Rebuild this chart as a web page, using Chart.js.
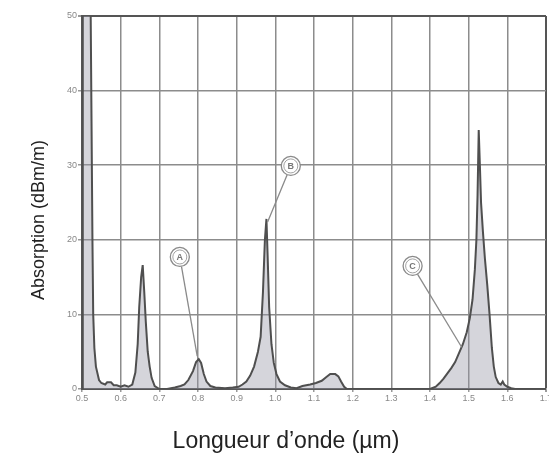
<!DOCTYPE html>
<html>
<head>
<meta charset="utf-8">
<script src="https://cdn.jsdelivr.net/npm/chart.js@4/dist/chart.umd.min.js"></script>
<style>
  html, body { margin: 0; padding: 0; background: #fff; }
  #wrap { width: 549px; height: 454px; }
</style>
</head>
<body>
<div id="wrap"><canvas id="absorption-chart"></canvas></div>
<script>
// Wavelength (um) and absorption (dBm/m)
const wavelengths = [
    0.500, 0.502, 0.521, 0.524, 0.527, 0.529, 0.532, 0.536, 0.544, 0.550,
    0.560, 0.565, 0.575, 0.582, 0.590, 0.600, 0.610, 0.620, 0.630, 0.638,
    0.644, 0.648, 0.653, 0.657, 0.661, 0.665, 0.670, 0.675, 0.680, 0.688,
    0.700, 0.720, 0.740, 0.755, 0.765, 0.775, 0.787, 0.795, 0.802, 0.808,
    0.815, 0.822, 0.832, 0.845, 0.870, 0.890, 0.905, 0.915, 0.925, 0.935,
    0.945, 0.955, 0.962, 0.968, 0.973, 0.977, 0.980, 0.984, 0.990, 0.996,
    1.003, 1.012, 1.025, 1.040, 1.055, 1.070, 1.090, 1.105, 1.120, 1.132,
    1.142, 1.155, 1.163, 1.170, 1.178, 1.185, 1.300, 1.400, 1.415, 1.425,
    1.435, 1.445, 1.455, 1.465, 1.475, 1.485, 1.495, 1.503, 1.510, 1.516,
    1.520, 1.523, 1.526, 1.529, 1.532, 1.537, 1.542, 1.548, 1.554, 1.560,
    1.565, 1.570, 1.577, 1.583, 1.588, 1.592, 1.600, 1.610, 1.620, 1.700
];
const absorption = [
    0, 60, 60, 40, 20, 10, 5.5, 3, 1.2, 0.8,
    0.6, 0.9, 0.9, 0.5, 0.5, 0.3, 0.5, 0.3, 0.6, 2.2,
    6, 11, 15, 16.6, 13, 9, 5, 3, 1.5, 0.4,
    0, 0, 0.2, 0.4, 0.6, 1.2, 2.4, 3.6, 4.0, 3.5,
    2, 1, 0.4, 0.2, 0.1, 0.2, 0.3, 0.6, 1.0, 1.8,
    3.0, 5, 7, 13, 20, 22.8, 18, 11, 6, 3.5,
    2, 1, 0.5, 0.2, 0.1, 0.4, 0.6, 0.8, 1.1, 1.6,
    2.0, 2.0, 1.7, 1.0, 0.3, 0, 0, 0, 0.3, 0.8,
    1.4, 2.1, 2.8, 3.6, 4.8, 6, 7.6, 9.5, 12, 16,
    20, 26, 34.7, 30, 25, 21, 17.5, 14, 10, 5.5,
    3, 1.6, 0.8, 0.6, 1.0, 0.6, 0.3, 0.1, 0, 0
];

const xTicks = [0.5, 0.6, 0.7, 0.8, 0.9, 1.0, 1.1, 1.2, 1.3, 1.4, 1.5, 1.6, 1.7];
const yTicks = [0, 10, 20, 30, 40, 50];

// Circled callouts: label, circle position, point on the curve
const calloutLabels = ['A', 'B', 'C'];
const calloutAt = [[0.753, 17.7], [1.040, 29.9], [1.355, 16.5]];
const calloutTo = [[0.798, 4.4], [0.980, 22.4], [1.482, 5.6]];

const xTitle = 'Longueur d\u2019onde (\u00b5m)';
const yTitle = 'Absorption (dBm/m)';

const FONT = '"Liberation Sans", Arial, sans-serif';

const calloutPlugin = {
    id: 'callouts',
    afterDatasetsDraw(chart) {
        const { ctx, scales: { x, y } } = chart;
        ctx.save();
        calloutLabels.forEach((label, i) => {
            const cx = x.getPixelForValue(calloutAt[i][0]);
            const cy = y.getPixelForValue(calloutAt[i][1]);
            const tx = x.getPixelForValue(calloutTo[i][0]);
            const ty = y.getPixelForValue(calloutTo[i][1]);
            const r = 9.5;
            const ang = Math.atan2(ty - cy, tx - cx);
            ctx.strokeStyle = '#8a8a8a';
            ctx.lineWidth = 1.3;
            ctx.beginPath();
            ctx.moveTo(cx + r * Math.cos(ang), cy + r * Math.sin(ang));
            ctx.lineTo(tx, ty);
            ctx.stroke();
            ctx.fillStyle = '#fff';
            ctx.beginPath();
            ctx.arc(cx, cy, r, 0, Math.PI * 2);
            ctx.fill();
            ctx.stroke();
            ctx.beginPath();
            ctx.arc(cx, cy, r - 2.5, 0, Math.PI * 2);
            ctx.lineWidth = 0.8;
            ctx.stroke();
            ctx.fillStyle = '#777';
            ctx.font = 'bold 9px ' + FONT;
            ctx.textAlign = 'center';
            ctx.textBaseline = 'middle';
            ctx.fillText(label, cx, cy + 0.5);
        });
        ctx.restore();
    }
};

const titlePlugin = {
    id: 'axisTitles',
    afterDraw(chart) {
        const { ctx } = chart;
        ctx.save();
        ctx.fillStyle = '#222';
        ctx.textAlign = 'center';
        ctx.textBaseline = 'alphabetic';
        ctx.font = '23px ' + FONT;
        ctx.fillText(xTitle, 286, 448);
        ctx.translate(39, 220);
        ctx.rotate(-Math.PI / 2);
        ctx.textBaseline = 'middle';
        ctx.font = '18px ' + FONT;
        ctx.fillText(yTitle, 0, 0);
        ctx.restore();
    }
};

const ctx = document.getElementById('absorption-chart').getContext('2d');
const chart = new Chart(ctx, {
    type: 'line',
    data: {
        datasets: [{
            label: 'Absorption',
            data: wavelengths.map((w, i) => ({ x: w, y: absorption[i] })),
            borderColor: '#4f4f4f',
            borderWidth: 2,
            backgroundColor: 'rgba(150, 150, 165, 0.4)',
            fill: 'origin',
            tension: 0,
            pointRadius: 0
        }]
    },
    options: {
        responsive: true,
        maintainAspectRatio: false,
        animation: false,
        layout: { padding: { top: 16, right: 3, left: 0, bottom: 0 } },
        plugins: {
            legend: { display: false },
            tooltip: { enabled: false }
        },
        scales: {
            x: {
                type: 'linear',
                min: 0.5,
                max: 1.7,
                afterBuildTicks: axis => { axis.ticks = xTicks.map(v => ({ value: v })); },
                afterFit: scale => { scale.height = 65; scale.paddingLeft = 0; scale.paddingRight = 0; },
                ticks: {
                    autoSkip: false,
                    maxRotation: 0,
                    padding: 1,
                    color: '#888',
                    font: { family: FONT, size: 9 },
                    callback: v => v.toFixed(1)
                },
                grid: {
                    color: c => (c.tick && c.tick.value === 1.7) ? '#555' : '#8c8c8c',
                    lineWidth: c => (c.tick && c.tick.value === 1.7) ? 2 : 1.5,
                    tickLength: 3,
                    tickColor: '#999'
                },
                border: { color: '#555', width: 2 }
            },
            y: {
                min: 0,
                max: 50,
                afterBuildTicks: axis => { axis.ticks = yTicks.map(v => ({ value: v })); },
                afterFit: scale => { scale.width = 82; scale.paddingTop = 0; scale.paddingBottom = 0; },
                ticks: {
                    padding: 1,
                    color: '#888',
                    font: { family: FONT, size: 9 }
                },
                grid: {
                    color: c => (c.tick && c.tick.value === 50) ? '#555' : '#8c8c8c',
                    lineWidth: c => (c.tick && c.tick.value === 50) ? 2 : 1.5,
                    tickLength: 4,
                    tickColor: '#999'
                },
                border: { color: '#555', width: 2 }
            }
        }
    },
    plugins: [calloutPlugin, titlePlugin]
});
</script>
</body>
</html>
